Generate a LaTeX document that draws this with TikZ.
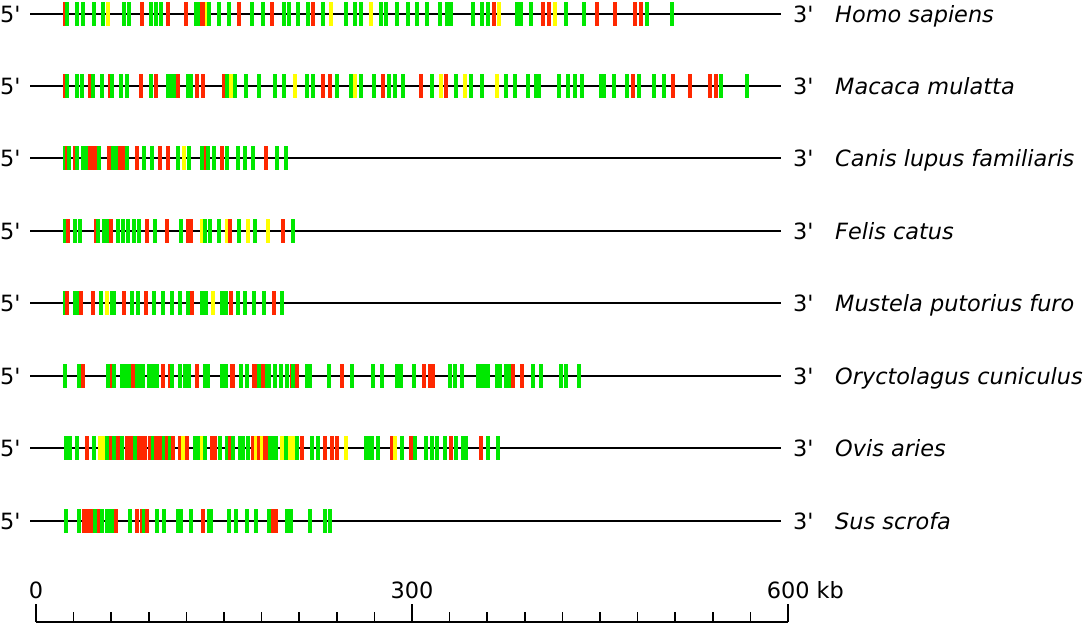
\documentclass[tikz,border=0pt]{standalone}
\usepackage{fontspec}
\newfontfamily\dvs{DejaVu Sans}
\definecolor{barg}{RGB}{0,232,0}
\definecolor{barr}{RGB}{255,40,0}
\definecolor{bary}{RGB}{255,255,0}
\newcommand\genebars[2]{\foreach \gx/\gc in {#2}{\fill[fill=bar\gc] (\gx-1.8,#1-12) rectangle (\gx+1.8,#1+12);}}
\newcommand\chromrow[4]{%
  \draw[chrom] (30,#1) -- (781,#1);
  \genebars{#1}{#4}
  \node[lbl] (five#2) at (0,#1+8) {5'};
  \node[lbl] (three#2) at (793,#1+8) {3'};
  \node[lbl,font=\dvs\fontsize{22.4}{27}\selectfont\itshape] (sp#2) at (835,#1+8) {#3};
}
\begin{document}
\begin{tikzpicture}[x=1pt,y=-1pt,
  font=\dvs\fontsize{22.4}{27}\selectfont,
  lbl/.style={inner sep=0pt,anchor=base west},
  chrom/.style={line width=1.8pt,black},
  axisline/.style={line width=1.6pt,black}]
\useasboundingbox (0,0) rectangle (1085,625);

\chromrow{14}{a}{Homo sapiens}{65/r,67/g,77/g,83/g,94/g,103/g,108/y,124/g,129/g,142/r,151/g,156/g,161/g,168/r,186/r,196/g,199/g,202/r,204/r,207/y,209/g,219/g,229/g,239/r,252/g,263/g,272/r,284/g,289/g,298/g,308/g,313/r,323/g,331/y,346/g,355/g,361/g,371/y,381/g,386/g,397/g,408/g,417/g,427/g,440/g,447/g,451/g,473/g,482/g,488/g,494/r,499/y,517/g,521/g,531/g,543/r,549/r,555/y,566/g,584/g,597/r,615/r,635/r,641/r,647/g,672/g}

\chromrow{86}{b}{Macaca mulatta}{65/r,67/g,77/g,82/g,90/r,93/g,102/g,110/r,112/g,121/g,127/g,141/r,151/g,156/r,168/g,172/g,174/g,178/r,188/g,191/g,197/r,203/r,224/r,227/g,231/y,235/g,246/g,259/g,275/g,284/g,295/y,307/g,313/g,323/r,330/r,337/g,351/g,355/y,361/g,374/g,383/r,389/g,395/g,403/g,421/r,432/g,441/y,446/r,456/g,465/y,471/g,482/g,497/y,506/g,515/g,528/g,536/g,539/g,559/g,568/g,575/g,582/g,601/g,604/g,614/g,627/g,633/r,639/g,654/g,664/g,673/r,690/r,710/r,716/r,721/g,747/g}

\chromrow{158}{c}{Canis lupus familiaris}{65/g,67/r,69/g,75/r,77/g,83/g,86/g,90/r,92/r,96/r,99/g,109/r,113/g,116/g,120/r,122/r,126/r,127/g,137/r,144/g,152/g,160/r,168/r,178/g,184/y,189/g,202/g,206/r,208/g,214/g,222/r,227/g,238/g,245/g,253/g,266/r,277/g,286/g}

\chromrow{231}{d}{Felis catus}{65/g,68/r,75/g,80/g,96/r,98/g,104/g,107/g,111/r,118/g,123/g,128/g,134/g,139/g,147/r,155/g,167/r,181/g,188/r,191/r,202/y,205/g,210/g,219/g,227/y,230/r,239/g,248/y,255/g,268/y,283/r,293/g}

\chromrow{303}{e}{Mustela putorius furo}{65/g,67/r,75/g,78/g,81/r,93/r,101/g,107/y,112/g,114/g,124/r,132/g,138/g,146/r,154/g,163/g,172/g,180/g,188/g,192/r,202/g,206/g,213/y,222/g,226/g,231/r,238/g,245/g,254/g,264/g,274/r,282/g}

\chromrow{376}{f}{Oryctolagus cuniculus}{65/g,79/g,83/r,108/g,112/r,114/g,122/g,126/g,130/g,133/r,137/g,140/g,143/g,149/g,153/g,157/g,163/r,170/r,172/g,180/g,185/g,189/g,197/r,205/g,208/g,222/g,226/g,232/r,233/r,241/g,247/g,254/r,257/r,259/g,263/r,267/g,269/g,275/g,281/g,287/g,292/r,293/g,297/r,307/g,310/g,329/g,342/r,352/g,373/g,382/g,397/g,401/g,414/g,424/r,430/r,433/r,450/g,455/g,462/g,478/g,481/g,484/g,488/g,497/g,500/g,506/g,509/g,513/r,522/r,533/g,541/g,561/g,566/g,579/g}

\chromrow{448}{g}{Ovis aries}{66/g,70/g,77/g,87/r,94/g,100/y,104/y,107/g,111/r,114/g,118/r,122/g,127/r,130/r,133/r,135/g,139/r,142/r,145/r,150/r,153/g,156/r,160/r,164/g,167/r,170/g,173/r,180/r,183/y,187/r,195/g,198/g,202/y,205/g,212/r,215/r,220/g,227/g,230/r,233/g,240/g,243/g,248/g,253/r,256/y,259/r,262/y,265/r,268/r,270/g,273/g,276/g,282/y,286/g,290/y,293/y,297/g,302/r,312/g,318/g,325/r,332/r,337/r,346/y,366/g,369/g,372/g,378/g,392/r,395/y,402/g,411/r,415/g,426/g,432/g,437/g,445/g,451/r,456/g,463/g,466/g,481/r,488/g,498/g}

\chromrow{521}{h}{Sus scrofa}{66/g,79/g,84/r,87/r,90/r,93/r,95/g,99/r,102/g,107/g,110/g,113/g,116/r,130/g,137/r,142/r,144/g,147/r,157/g,164/g,178/g,181/g,191/g,203/r,209/g,211/g,229/g,236/g,247/g,256/g,269/g,273/r,276/r,287/g,291/g,310/g,325/g,330/g}

% scale axis
\coordinate (ax0) at (36,622);
\coordinate (ax600) at (788,622);
\draw[axisline] (ax0) -- (ax600);
\foreach \k in {1,...,9,11,12,...,19}
  \draw[axisline] (36+\k*37.6,612) -- (36+\k*37.6,622);
\foreach \k in {0,10,20}
  \draw[axisline] (36+\k*37.6,604) -- (36+\k*37.6,622);
\node[inner sep=0pt,anchor=base] (l0) at (36,598) {0};
\node[inner sep=0pt,anchor=base] (l300) at (412,598) {300};
\node[inner sep=0pt,anchor=base west] (l600) at (766.6,598) {600 kb};
\end{tikzpicture}
\end{document}
